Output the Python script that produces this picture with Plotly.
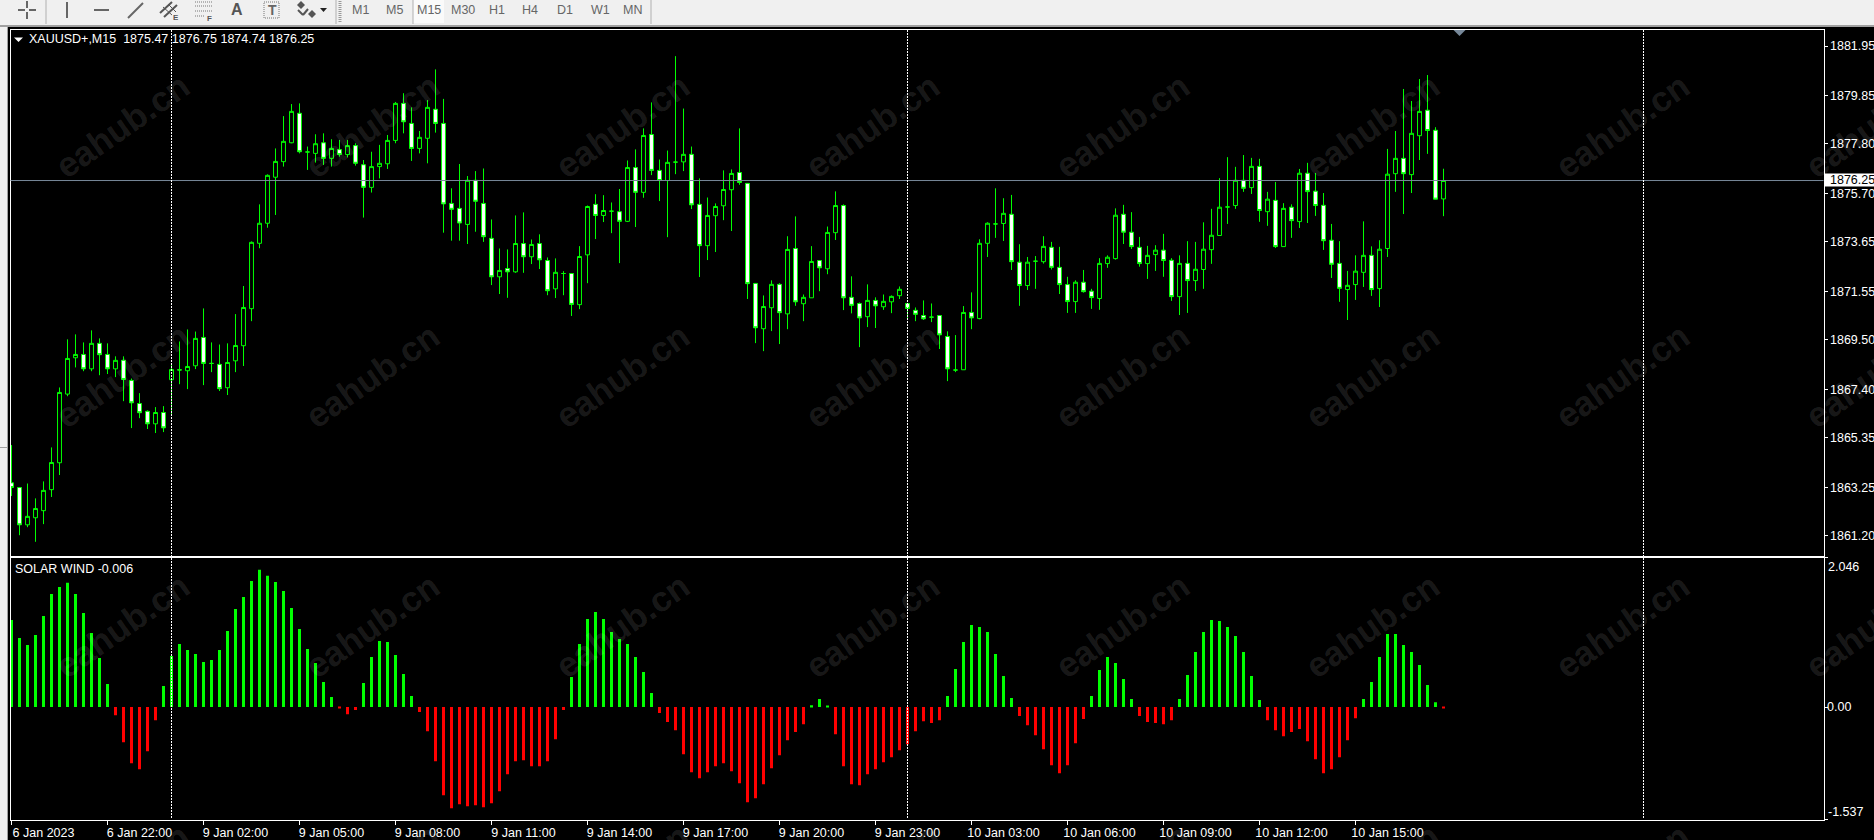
import plotly.graph_objects as go
from plotly.subplots import make_subplots

W = 1874
H = 840

opens = [
    1863.44, 1863.24, 1861.66, 1861.96, 1862.26, 1863.15, 1864.29, 1867.20, 1868.74, 1868.88,
    1868.27, 1869.35, 1868.88, 1868.27, 1868.63, 1867.78, 1866.80, 1866.47, 1865.94, 1866.42,
    1867.81, 1868.23, 1868.19, 1868.40, 1869.60, 1868.50, 1868.46, 1867.47, 1868.61, 1869.25,
    1870.82, 1873.59, 1874.44, 1876.39, 1877.05, 1877.85, 1879.10, 1877.46, 1877.40, 1877.85,
    1877.19, 1877.56, 1877.35, 1877.73, 1876.92, 1875.96, 1876.84, 1876.96, 1877.95, 1879.52,
    1878.67, 1877.61, 1878.04, 1879.27, 1878.67, 1875.28, 1875.07, 1874.39, 1876.26, 1875.28,
    1873.80, 1872.17, 1872.52, 1872.38, 1873.58, 1873.02, 1873.58, 1872.86, 1871.66, 1872.31,
    1872.31, 1870.99, 1873.10, 1875.24, 1874.77, 1874.95, 1874.93, 1874.52, 1876.80, 1875.75,
    1878.20, 1876.68, 1876.25, 1877.03, 1877.04, 1877.36, 1875.24, 1873.49, 1874.76, 1875.18,
    1875.86, 1876.59, 1876.13, 1871.89, 1869.97, 1870.86, 1871.85, 1870.60, 1873.37, 1871.03,
    1871.28, 1872.86, 1872.51, 1874.04, 1875.19, 1871.30, 1871.04, 1870.48, 1871.17, 1870.90,
    1871.11, 1871.37, 1871.04, 1870.75, 1870.53, 1870.46, 1870.53, 1869.64, 1868.22, 1868.23,
    1870.66, 1870.40, 1873.59, 1874.41, 1874.43, 1874.82, 1872.79, 1871.80, 1872.83, 1872.81,
    1873.42, 1872.57, 1871.84, 1871.12, 1871.94, 1871.56, 1871.25, 1872.73, 1872.94, 1874.82,
    1874.06, 1873.42, 1872.73, 1873.11, 1873.30, 1872.87, 1871.33, 1872.74, 1872.01, 1872.48,
    1873.32, 1873.92, 1875.13, 1875.19, 1876.26, 1875.95, 1876.85, 1874.93, 1875.41, 1873.45,
    1875.12, 1874.51, 1876.56, 1875.80, 1875.20, 1873.72, 1872.74, 1871.63, 1871.84, 1872.36,
    1873.08, 1871.67, 1873.37, 1876.54, 1877.19, 1876.50, 1878.15, 1879.23, 1878.38, 1875.47,
]
highs = [
    1865.04, 1863.24, 1863.41, 1862.78, 1863.50, 1864.94, 1867.48, 1869.52, 1869.73, 1869.39,
    1869.90, 1869.56, 1869.35, 1868.80, 1868.80, 1867.86, 1867.24, 1866.51, 1866.65, 1866.69,
    1868.47, 1869.43, 1869.94, 1869.85, 1870.83, 1869.39, 1869.30, 1869.35, 1870.59, 1871.78,
    1873.67, 1875.24, 1876.51, 1877.61, 1878.98, 1879.49, 1879.52, 1877.69, 1878.21, 1878.25,
    1878.00, 1877.97, 1877.97, 1877.83, 1877.12, 1877.47, 1877.76, 1878.18, 1879.58, 1879.95,
    1879.35, 1878.35, 1879.66, 1880.96, 1879.71, 1875.92, 1876.95, 1876.44, 1876.65, 1876.76,
    1874.60, 1873.37, 1873.33, 1874.77, 1874.90, 1873.75, 1873.97, 1872.99, 1872.95, 1872.41,
    1872.31, 1873.47, 1875.19, 1875.67, 1875.63, 1875.32, 1875.89, 1877.10, 1877.57, 1878.46,
    1879.56, 1877.14, 1877.52, 1881.52, 1879.30, 1877.69, 1876.34, 1875.53, 1875.28, 1876.68,
    1876.72, 1878.46, 1876.13, 1871.89, 1871.38, 1872.02, 1871.90, 1873.89, 1874.73, 1871.42,
    1873.47, 1872.88, 1874.30, 1875.79, 1875.24, 1872.19, 1871.08, 1871.85, 1871.30, 1871.42,
    1871.38, 1871.76, 1871.04, 1870.87, 1871.17, 1871.04, 1870.53, 1869.86, 1869.70, 1870.93,
    1871.51, 1873.76, 1874.48, 1875.92, 1875.50, 1875.64, 1873.55, 1873.01, 1873.05, 1873.89,
    1873.65, 1873.44, 1872.17, 1872.02, 1872.46, 1871.66, 1872.96, 1873.08, 1875.07, 1875.22,
    1874.91, 1873.86, 1873.48, 1873.51, 1873.99, 1872.96, 1873.08, 1873.68, 1873.65, 1874.48,
    1875.05, 1876.35, 1877.24, 1876.83, 1877.33, 1877.21, 1877.17, 1875.77, 1876.19, 1875.29,
    1875.24, 1876.74, 1877.00, 1876.57, 1875.72, 1874.41, 1873.68, 1872.42, 1873.08, 1874.52,
    1873.46, 1873.72, 1877.59, 1878.35, 1880.13, 1879.62, 1880.55, 1880.72, 1878.51, 1876.75,
]
lows = [
    1862.88, 1861.22, 1861.56, 1860.94, 1861.69, 1862.84, 1863.77, 1867.11, 1868.33, 1868.17,
    1868.17, 1868.00, 1868.05, 1867.92, 1866.90, 1865.76, 1866.18, 1865.72, 1865.55, 1865.59,
    1866.28, 1867.62, 1867.41, 1868.26, 1867.58, 1868.13, 1867.33, 1867.16, 1868.13, 1868.39,
    1870.29, 1873.38, 1874.25, 1874.79, 1876.84, 1877.83, 1877.40, 1876.70, 1877.01, 1876.91,
    1876.84, 1877.26, 1877.23, 1876.88, 1874.68, 1875.74, 1876.34, 1876.74, 1877.83, 1878.25,
    1877.08, 1877.40, 1876.98, 1878.28, 1874.04, 1873.70, 1873.70, 1873.56, 1874.08, 1873.65,
    1871.82, 1871.44, 1871.28, 1872.34, 1872.34, 1872.71, 1872.50, 1871.39, 1871.27, 1871.39,
    1870.51, 1870.80, 1871.90, 1873.77, 1874.49, 1874.02, 1872.75, 1874.49, 1874.28, 1875.52,
    1876.48, 1875.38, 1873.85, 1876.52, 1876.65, 1875.04, 1872.16, 1872.88, 1873.22, 1874.57,
    1874.11, 1876.07, 1871.23, 1869.36, 1869.02, 1869.87, 1869.32, 1869.95, 1870.94, 1870.29,
    1871.28, 1871.56, 1872.28, 1873.73, 1870.76, 1870.62, 1869.19, 1870.04, 1870.00, 1870.77,
    1870.63, 1871.23, 1870.34, 1870.29, 1870.34, 1870.25, 1869.11, 1867.75, 1868.13, 1868.23,
    1869.95, 1870.37, 1873.01, 1873.82, 1873.69, 1872.46, 1870.94, 1871.61, 1871.66, 1872.73,
    1872.48, 1871.44, 1870.64, 1870.64, 1871.50, 1870.81, 1870.77, 1872.55, 1872.90, 1873.56,
    1873.35, 1872.60, 1872.08, 1872.42, 1872.17, 1871.15, 1870.55, 1870.64, 1871.57, 1871.66,
    1872.72, 1873.92, 1874.41, 1875.05, 1875.77, 1875.68, 1874.50, 1874.33, 1873.39, 1873.45,
    1873.82, 1874.24, 1874.45, 1874.75, 1873.31, 1872.12, 1871.11, 1870.34, 1871.19, 1871.74,
    1871.36, 1870.89, 1873.01, 1875.77, 1874.83, 1875.72, 1877.12, 1877.38, 1875.46, 1874.74,
]
closes = [
    1863.24, 1861.66, 1862.02, 1862.35, 1863.12, 1864.30, 1867.27, 1868.71, 1868.88, 1868.27,
    1869.35, 1868.87, 1868.27, 1868.63, 1867.82, 1866.83, 1866.41, 1865.94, 1866.42, 1865.77,
    1868.24, 1868.22, 1868.37, 1869.56, 1868.50, 1868.50, 1867.43, 1868.54, 1869.26, 1870.87,
    1873.63, 1874.44, 1876.47, 1877.06, 1877.91, 1879.18, 1877.47, 1877.46, 1877.81, 1877.19,
    1877.61, 1877.35, 1877.73, 1876.98, 1875.96, 1876.84, 1876.98, 1877.95, 1879.52, 1878.74,
    1877.61, 1878.08, 1879.35, 1878.67, 1875.26, 1875.03, 1874.45, 1876.26, 1875.37, 1873.87,
    1872.17, 1872.44, 1872.38, 1873.58, 1873.02, 1873.54, 1872.89, 1871.58, 1872.36, 1872.31,
    1871.00, 1873.03, 1875.15, 1874.77, 1874.98, 1874.95, 1874.52, 1876.80, 1875.75, 1878.16,
    1876.68, 1876.25, 1877.02, 1877.03, 1877.36, 1875.22, 1873.49, 1874.77, 1875.15, 1875.87,
    1876.55, 1876.17, 1871.88, 1870.01, 1870.91, 1871.85, 1870.65, 1873.33, 1871.11, 1871.30,
    1872.82, 1872.55, 1874.05, 1875.19, 1871.28, 1870.96, 1870.43, 1871.17, 1870.94, 1871.13,
    1871.34, 1871.64, 1870.83, 1870.58, 1870.39, 1870.46, 1869.71, 1868.27, 1868.22, 1870.66,
    1870.43, 1873.59, 1874.44, 1874.41, 1874.86, 1872.81, 1871.80, 1872.79, 1872.83, 1873.46,
    1872.57, 1871.84, 1871.12, 1871.94, 1871.54, 1871.29, 1872.74, 1873.00, 1874.78, 1874.06,
    1873.45, 1872.73, 1873.08, 1873.30, 1872.86, 1871.33, 1872.74, 1872.01, 1872.49, 1873.34,
    1873.93, 1875.12, 1875.13, 1876.26, 1875.92, 1876.85, 1874.98, 1875.46, 1873.45, 1875.07,
    1874.55, 1876.56, 1875.78, 1875.19, 1873.70, 1872.70, 1871.68, 1871.81, 1872.41, 1873.08,
    1871.63, 1873.34, 1876.52, 1877.19, 1876.54, 1878.25, 1879.18, 1878.37, 1875.46, 1876.25,
]
solar_wind = [
    1.190, 0.945, 0.850, 0.986, 1.247, 1.548, 1.644, 1.699, 1.548, 1.288,
    1.014, 0.671, 0.315, -0.110, -0.479, -0.767, -0.849, -0.603, -0.178, 0.288,
    0.699, 0.863, 0.781, 0.726, 0.616, 0.644, 0.781, 1.041, 1.342, 1.507,
    1.726, 1.877, 1.795, 1.712, 1.589, 1.356, 1.068, 0.795, 0.603, 0.342,
    0.137, -0.010, -0.096, -0.041, 0.329, 0.685, 0.904, 0.890, 0.712, 0.452,
    0.151, -0.068, -0.329, -0.740, -1.205, -1.384, -1.329, -1.356, -1.342, -1.370,
    -1.315, -1.151, -0.918, -0.740, -0.726, -0.808, -0.808, -0.740, -0.438, -0.041,
    0.411, 0.863, 1.205, 1.301, 1.205, 1.027, 0.932, 0.863, 0.685, 0.479,
    0.192, -0.082, -0.205, -0.315, -0.644, -0.890, -0.973, -0.890, -0.808, -0.767,
    -0.877, -1.041, -1.301, -1.247, -1.055, -0.836, -0.658, -0.452, -0.342, -0.233,
    0.027, 0.110, 0.014, -0.370, -0.808, -1.055, -1.068, -0.918, -0.849, -0.753,
    -0.685, -0.589, -0.507, -0.329, -0.192, -0.219, -0.178, 0.151, 0.521, 0.890,
    1.123, 1.096, 1.027, 0.726, 0.425, 0.123, -0.123, -0.247, -0.384, -0.575,
    -0.795, -0.904, -0.795, -0.493, -0.164, 0.151, 0.507, 0.685, 0.603, 0.384,
    0.110, -0.123, -0.205, -0.219, -0.233, -0.178, 0.110, 0.438, 0.753, 1.027,
    1.192, 1.178, 1.096, 0.973, 0.753, 0.425, 0.096, -0.178, -0.315, -0.397,
    -0.342, -0.301, -0.466, -0.712, -0.904, -0.849, -0.685, -0.452, -0.151, 0.110,
    0.342, 0.685, 1.000, 1.000, 0.849, 0.753, 0.575, 0.301, 0.068, -0.006,
]
time_labels = [
    "6 Jan 2023", "6 Jan 22:00", "9 Jan 02:00", "9 Jan 05:00", "9 Jan 08:00",
    "9 Jan 11:00", "9 Jan 14:00", "9 Jan 17:00", "9 Jan 20:00", "9 Jan 23:00",
    "10 Jan 03:00", "10 Jan 06:00", "10 Jan 09:00", "10 Jan 12:00", "10 Jan 15:00",
]
price_ticks = [1881.95, 1879.85, 1877.80, 1875.70, 1873.65, 1871.55, 1869.50, 1867.40, 1865.35, 1863.25, 1861.20]
period_seps = [20, 112, 204]
timeframes = ["M1", "M5", "M15", "M30", "H1", "H4", "D1", "W1", "MN"]
last_price = 1876.25
solar_min = -1.537
solar_max = 2.046

GREEN = "#00ff00"
RED = "#ff0000"
FONT = "Liberation Sans"

bars = list(range(len(closes)))


# pixel to paper helpers, the margins are zero so paper is the whole page
def fx(px):
    return px / W


def fy(py):
    return 1 - py / H


fig = make_subplots(rows=2, cols=1)

fig.add_trace(go.Candlestick(
    x=bars, open=opens, high=highs, low=lows, close=closes,
    increasing=dict(line=dict(color=GREEN, width=1), fillcolor="#000000"),
    decreasing=dict(line=dict(color=GREEN, width=1), fillcolor="#ffffff"),
    whiskerwidth=0, showlegend=False,
), row=1, col=1)

fig.add_trace(go.Bar(
    x=bars, y=[v if v > 0 else 0 for v in solar_wind],
    marker=dict(color=GREEN, line=dict(width=0)), width=0.375, showlegend=False,
), row=2, col=1)
fig.add_trace(go.Bar(
    x=bars, y=[v if v < 0 else 0 for v in solar_wind],
    marker=dict(color=RED, line=dict(width=0)), width=0.375, showlegend=False,
), row=2, col=1)

x_range = [-0.125, 226.5]
x_domain = [fx(10.5), fx(1823.5)]
axis_style = dict(showline=True, linecolor="#ffffff", linewidth=1, mirror=True, showgrid=False, zeroline=False)
tick_font = dict(family=FONT, size=12.5, color="#ffffff")

fig.update_xaxes(
    axis_style, domain=x_domain, range=x_range, showticklabels=False, ticks="", rangeslider_visible=False,
    row=1, col=1,
)
fig.update_xaxes(
    axis_style, domain=x_domain, range=x_range,
    tickmode="array", tickvals=bars[::12], ticktext=time_labels,
    ticks="outside", ticklen=4, tickcolor="#ffffff", tickfont=tick_font,
    ticklabelshift=32, ticklabelstandoff=-3,
    row=2, col=1,
)
fig.update_yaxes(
    axis_style, domain=[fy(555.5), fy(29.5)], range=[1860.36, 1882.65], side="right",
    tickmode="array", tickvals=price_ticks, ticktext=[f"{p:.2f}" for p in price_ticks],
    ticks="outside", ticklen=3, tickcolor="#ffffff", tickfont=tick_font,
    row=1, col=1,
)
fig.update_yaxes(
    axis_style, domain=[fy(819.5), fy(557.5)], range=[solar_min, solar_max], side="right",
    tickmode="array", tickvals=[solar_max, 0, solar_min], ticktext=["", "0.00", ""],
    ticks="outside", ticklen=3, tickcolor="#ffffff", tickfont=tick_font, ticklabelstandoff=-3,
    row=2, col=1,
)

shapes = []
# toolbar and left strip
shapes.append(dict(type="rect", xref="paper", yref="paper", x0=0, x1=1, y0=fy(0), y1=fy(25),
                   fillcolor="#f0f0f0", line_width=0, layer="below"))
shapes.append(dict(type="rect", xref="paper", yref="paper", x0=0, x1=1, y0=fy(25), y1=fy(27),
                   fillcolor="#a0a0a0", line_width=0, layer="below"))
shapes.append(dict(type="rect", xref="paper", yref="paper", x0=0, x1=fx(7), y0=fy(27), y1=0,
                   fillcolor="#f0f0f0", line_width=0, layer="below"))
shapes.append(dict(type="rect", xref="paper", yref="paper", x0=fx(7), x1=fx(8), y0=fy(27), y1=0,
                   fillcolor="#a0a0a0", line_width=0, layer="below"))
shapes.append(dict(type="rect", xref="paper", yref="paper", x0=0, x1=fx(7), y0=fy(447), y1=fy(448),
                   fillcolor="#a0a0a0", line_width=0, layer="below"))
shapes.append(dict(type="rect", xref="paper", yref="paper", x0=fx(413), x1=fx(444), y0=fy(0), y1=fy(23),
                   fillcolor="#fafafa", line_width=0, layer="below"))


def tool_line(x0, y0, x1, y1, color="#777777", width=1, dash="solid"):
    shapes.append(dict(type="line", xref="paper", yref="paper", x0=fx(x0), x1=fx(x1), y0=fy(y0), y1=fy(y1),
                       line=dict(color=color, width=width, dash=dash)))


def diamond(cx, cy, r, color):
    shapes.append(dict(type="path", xref="paper", yref="paper",
                       path=f"M {fx(cx - r)} {fy(cy)} L {fx(cx)} {fy(cy - r)} L {fx(cx + r)} {fy(cy)} "
                            f"L {fx(cx)} {fy(cy + r)} Z",
                       fillcolor=color, line_width=0))


# toolbar separators and drawing icons
for sep_x in [46, 336, 413, 651]:
    tool_line(sep_x, 0, sep_x, 24, "#b0b0b0")
tool_line(340, 1, 340, 23, "#999999", 3, "1px,1px")
tool_line(18, 10, 25, 10, "#666666", 2)
tool_line(29, 10, 36, 10, "#666666", 2)
tool_line(27, 1, 27, 8, "#666666", 2)
tool_line(27, 12, 27, 19, "#666666", 2)
tool_line(67, 2, 67, 18, "#666666", 2)
tool_line(94, 10, 109, 10, "#666666", 2)
tool_line(128, 18, 143, 3, "#666666", 2)
tool_line(160, 13, 172, 2, "#555555", 2)
tool_line(164, 17, 177, 5, "#555555", 2)
tool_line(163, 7, 172, 15, "#555555")
tool_line(168, 4, 176, 12, "#555555")
tool_line(195, 2, 212, 2, "#777777", 1, "1px,1px")
tool_line(195, 6, 212, 6, "#777777", 1, "1px,1px")
tool_line(195, 11, 212, 11, "#777777", 1, "1px,1px")
tool_line(195, 16, 205, 16, "#777777", 1, "1px,1px")
shapes.append(dict(type="rect", xref="paper", yref="paper", x0=fx(264), x1=fx(279), y0=fy(2), y1=fy(18),
                   line=dict(color="#777777", width=1, dash="1px,1px")))
diamond(301, 5, 4, "#555555")
diamond(312, 14, 4, "#555555")
tool_line(298, 10, 303, 15, "#555555", 2)
tool_line(303, 15, 308, 9, "#555555", 2)
shapes.append(dict(type="path", xref="paper", yref="paper",
                   path=f"M {fx(320)} {fy(8)} L {fx(327)} {fy(8)} L {fx(323.5)} {fy(12)} Z",
                   fillcolor="#222222", line_width=0))

# white marker in the chart title and grey shift marker on top of the pane
shapes.append(dict(type="path", xref="paper", yref="paper",
                   path=f"M {fx(14)} {fy(37.5)} L {fx(23)} {fy(37.5)} L {fx(18.5)} {fy(42)} Z",
                   fillcolor="#ffffff", line_width=0))
shapes.append(dict(type="path", xref="paper", yref="paper",
                   path=f"M {fx(1453.5)} {fy(30)} L {fx(1465.5)} {fy(30)} L {fx(1459.5)} {fy(36)} Z",
                   fillcolor="#778899", line_width=0))

# last price line and period separators
shapes.append(dict(type="line", xref="paper", yref="y", x0=x_domain[0], x1=x_domain[1],
                   y0=last_price, y1=last_price, line=dict(color="#778899", width=1)))
for sep in period_seps:
    shapes.append(dict(type="line", xref="x", yref="paper", x0=sep, x1=sep, y0=fy(30), y1=fy(819),
                       line=dict(color="#ffffff", width=1, dash="2px,1px")))
# box behind the last price label
shapes.append(dict(type="rect", xref="paper", yref="paper", x0=fx(1825), x1=1, y0=fy(173.5), y1=fy(186.5),
                   fillcolor="#ffffff", line_width=0))

annotations = []
# watermark over everything
for wm_y in [125, 375, 625, 875]:
    for wm_x in [122, 372, 622, 872, 1122, 1372, 1622, 1872]:
        annotations.append(dict(
            text="<b>eahub.cn</b>", xref="paper", yref="paper", x=fx(wm_x), y=fy(wm_y), showarrow=False,
            xanchor="center", yanchor="middle", textangle=-35,
            font=dict(family="Liberation Sans", size=35, color="rgba(255,255,255,0.115)"),
        ))


def label(text, x, y, color="#ffffff", anchor="left", size=12.5, **kw):
    annotations.append(dict(
        text=text, xref="paper", yref="paper", x=fx(x), y=fy(y), showarrow=False,
        xanchor=anchor, yanchor="middle", font=dict(family=FONT, size=size, color=color), **kw,
    ))


label("XAUUSD+,M15\u00a0\u00a01875.47 1876.75 1874.74 1876.25", 27, 38.7)
label("SOLAR WIND -0.006", 13, 568.7)
label("2.046", 1825.5, 566.7)
label("-1.537", 1825.5, 811.7)
label("1876.25", 1828, 180, color="#000000")

tf_x = [360, 394, 429, 463, 497, 530, 565, 600, 632]
for tf, tx in zip(timeframes, tf_x):
    label(tf, tx, 10, color="#666666", anchor="center")
label("<b>A</b>", 237, 10, color="#555555", anchor="center", size=16)
label("<b>T</b>", 272, 10, color="#666666", anchor="center", size=14)
label("<b>E</b>", 176, 17, color="#555555", anchor="center", size=8)
label("<b>F</b>", 209, 18, color="#555555", anchor="center", size=8)

fig.update_layout(
    width=W, height=H, margin=dict(l=0, r=0, t=0, b=0),
    paper_bgcolor="#000000", plot_bgcolor="#000000",
    barmode="overlay", boxgap=0.3, showlegend=False,
    shapes=shapes, annotations=annotations,
)

fig.write_html("out.html", config=dict(displayModeBar=False),
               post_script="document.body.style.margin='0';document.body.style.overflow='hidden';")
